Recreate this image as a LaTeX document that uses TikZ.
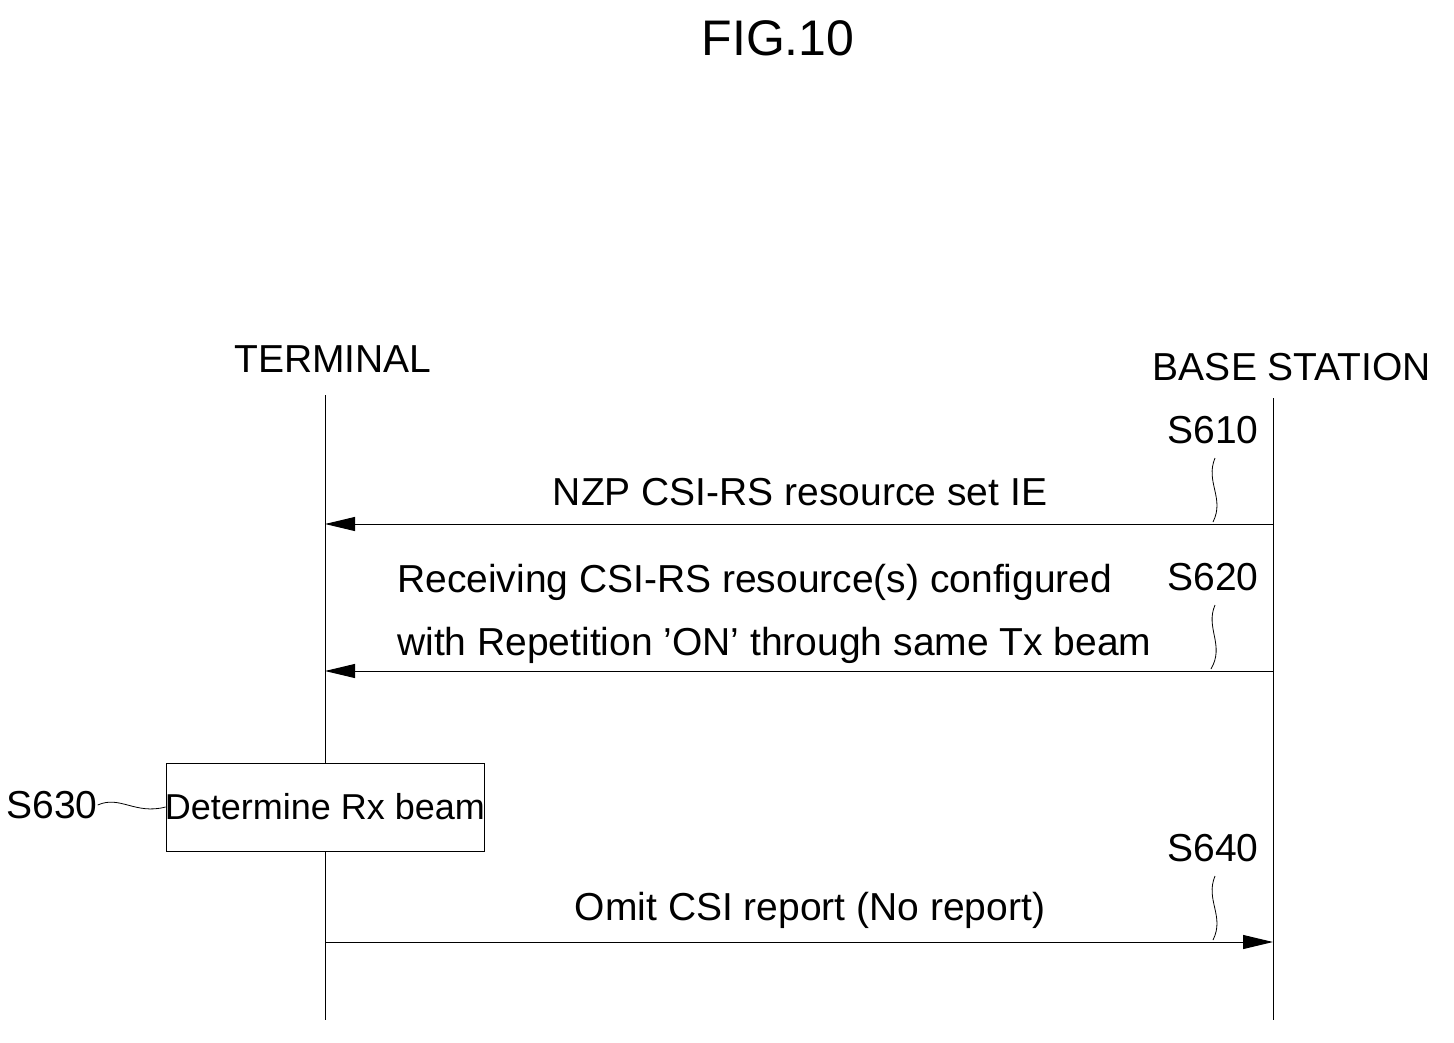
\documentclass[tikz,border=0pt]{standalone}
\usepackage{fontspec}
\setmainfont{Liberation Sans}
\usetikzlibrary{arrows.meta}
\begin{document}
\begin{tikzpicture}[x=1pt,y=-1pt,
  lbl/.style={font=\fontsize{39}{44}\selectfont, inner sep=0pt},
  life/.style={line width=1pt},
  msg/.style={line width=1pt,-{Triangle[length=30pt,width=14pt]}},
  sq/.style={line width=0.8pt}]
\useasboundingbox (0,0) rectangle (1454,1042);
\node[lbl,font=\fontsize{50}{56}\selectfont] (fig) at (778,38) {FIG.10};
\node[lbl,anchor=base] (t) at (333,372) {TERMINAL};
\node[lbl,anchor=base] (b) at (1292,380) {BASE STATION};
\coordinate (t0) at (325,395); \coordinate (t1) at (325,1020);
\coordinate (b0) at (1273,398); \coordinate (b1) at (1273,1020);
\draw[life] (t0) -- (t1); \draw[life] (b0) -- (b1);
\coordinate (b610) at (1273,524); \coordinate (t610) at (325,524);
\coordinate (b620) at (1273,671); \coordinate (t620) at (325,671);
\coordinate (t640) at (325,942); \coordinate (b640) at (1273,942);
\draw[msg] (b610) -- (t610);
\draw[msg] (b620) -- (t620);
\draw[msg] (t640) -- (b640);
\node[lbl,anchor=base] (m1) at (800,505) {NZP CSI-RS resource set IE};
\node[lbl,anchor=base west] (m2a) at (397,592) {Receiving CSI-RS resource(s) configured};
\node[lbl,anchor=base west] (m2b) at (397,655) {with Repetition \symbol{39}ON\symbol{39} through same Tx beam};
\node[lbl,anchor=base] (m4) at (810,920) {Omit CSI report (No report)};
\node[lbl] (s610) at (1213,430) {S610};
\node[lbl] (s620) at (1213,577) {S620};
\node[lbl] (s640) at (1213,848) {S640};
\draw[sq] (1215,458) .. controls (1205,482) and (1225,498) .. (1213,522);
\draw[sq] (1215,605) .. controls (1205,628) and (1225,645) .. (1211,669);
\draw[sq] (1215,876) .. controls (1205,900) and (1225,916) .. (1213,940);
\node[draw,line width=0.8pt,fill=white,minimum width=318pt,minimum height=88pt,inner sep=0pt] (box) at (325,807) {};
\node[lbl,font=\fontsize{36}{40}\selectfont] at (box) {Determine Rx beam};
\node[lbl] (s630) at (52,805) {S630};
\draw[sq] (s630.east) .. controls (120,795) and (135,815) .. (box.west);
\end{tikzpicture}
\end{document}
